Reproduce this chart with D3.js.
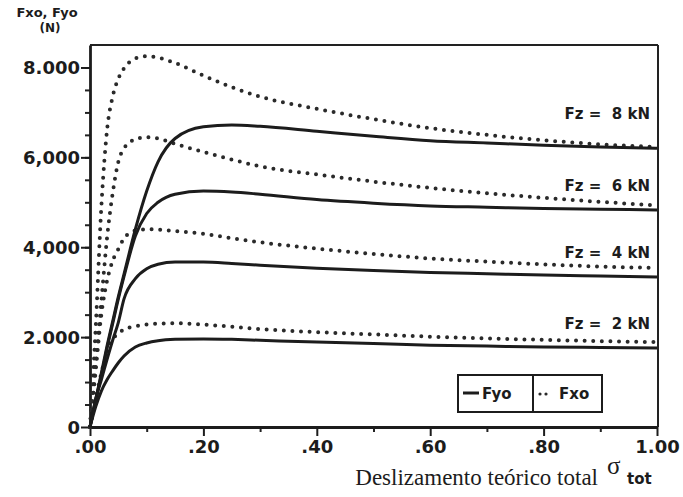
<!DOCTYPE html>
<html>
<head>
<meta charset="utf-8">
<script src="https://cdn.jsdelivr.net/npm/d3@7"></script>
<style>
body { margin: 0; background: #fff; }
svg text { font-family: "DejaVu Sans", sans-serif; font-weight: bold; fill: #1c1c1c; }
</style>
</head>
<body>
<svg id="chart" width="683" height="497"></svg>
<script>
// total theoretical slip (x values shared by all curves)
const slip = [0, 0.01, 0.02, 0.03, 0.04, 0.05, 0.06, 0.08, 0.10, 0.12, 0.15, 0.20, 0.25, 0.30, 0.40, 0.50, 0.60, 0.70, 0.80, 0.90, 1.00];

// Fyo (solid) per wheel load
const fyo8 = [0, 600, 1200, 1800, 2350, 2900, 3400, 4400, 5250, 5900, 6420, 6680, 6720, 6690, 6580, 6470, 6370, 6320, 6270, 6230, 6200];
const fyo6 = [0, 600, 1150, 1750, 2300, 2850, 3350, 4250, 4750, 5000, 5180, 5250, 5230, 5180, 5060, 4980, 4920, 4890, 4860, 4845, 4830];
const fyo4 = [0, 620, 1050, 1500, 1930, 2330, 2850, 3300, 3520, 3620, 3670, 3670, 3640, 3600, 3530, 3480, 3440, 3410, 3380, 3360, 3340];
const fyo2 = [0, 450, 800, 1050, 1250, 1430, 1580, 1780, 1870, 1920, 1950, 1960, 1950, 1930, 1890, 1860, 1820, 1800, 1780, 1770, 1760];

// Fxo (dotted) per wheel load
const fxo8 = [0, 2200, 4900, 6600, 7350, 7750, 7980, 8200, 8250, 8220, 8100, 7820, 7560, 7350, 7080, 6850, 6650, 6500, 6380, 6290, 6230];
const fxo6 = [0, 1400, 2800, 4200, 5200, 5900, 6200, 6400, 6450, 6420, 6300, 6120, 5950, 5800, 5620, 5460, 5320, 5200, 5100, 5010, 4930];
const fxo4 = [0, 1250, 2500, 3250, 3700, 3960, 4200, 4370, 4400, 4390, 4360, 4300, 4200, 4110, 3970, 3850, 3750, 3680, 3620, 3570, 3540];
const fxo2 = [0, 600, 1200, 1650, 1950, 2080, 2170, 2240, 2280, 2300, 2310, 2280, 2230, 2180, 2110, 2060, 2010, 1970, 1940, 1910, 1890];

const loadLabels = ['Fz =  8 kN', 'Fz =  6 kN', 'Fz =  4 kN', 'Fz =  2 kN'];
const labelValues = [6850, 5260, 3770, 2180];

const xTicks = [0, 0.2, 0.4, 0.6, 0.8, 1.0];
const xTickLabels = ['.00', '.20', '.40', '.60', '.80', '1.00'];
const yTicks = [0, 2000, 4000, 6000, 8000];
const yTickLabels = ['0', '2.000', '4,000', '6,000', '8.000'];

const svg = d3.select('#chart');
const x = d3.scaleLinear().domain([0, 1]).range([90, 657]);
const y = d3.scaleLinear().domain([0, 8500]).range([427, 45]);

// frame top + right
svg.append('line').attr('x1', 90).attr('x2', 658).attr('y1', 45).attr('y2', 45)
    .attr('stroke', '#222').attr('stroke-width', 2);
svg.append('line').attr('x1', 658).attr('x2', 658).attr('y1', 45).attr('y2', 427)
    .attr('stroke', '#222').attr('stroke-width', 2);

// minor ticks
svg.append('g').attr('transform', 'translate(90,0)')
    .call(d3.axisLeft(y).tickValues(d3.range(500, 8500, 500)).tickSize(5).tickFormat(''))
    .call(g => g.select('.domain').remove())
    .selectAll('line').attr('stroke', '#222').attr('stroke-width', 2);
svg.append('g').attr('transform', 'translate(0,427)')
    .call(d3.axisBottom(x).tickValues(d3.range(0.1, 1, 0.2)).tickSize(5).tickFormat(''))
    .call(g => g.select('.domain').remove())
    .selectAll('line').attr('stroke', '#222').attr('stroke-width', 2);

// main axes
let yAxis = svg.append('g').attr('transform', 'translate(90,0)')
    .call(d3.axisLeft(y).tickValues(yTicks).tickSize(9).tickSizeOuter(0).tickFormat((d, i) => yTickLabels[i]));
let xAxis = svg.append('g').attr('transform', 'translate(0,427)')
    .call(d3.axisBottom(x).tickValues(xTicks).tickSize(9).tickSizeOuter(0).tickFormat((d, i) => xTickLabels[i]));
[xAxis, yAxis].forEach(g => {
    g.select('.domain').attr('stroke', '#1c1c1c').attr('stroke-width', 2.8);
    g.selectAll('.tick line').attr('stroke', '#1c1c1c').attr('stroke-width', 2);
    g.selectAll('.tick text').style('font-size', '18px').attr('fill', '#1c1c1c');
});
yAxis.selectAll('.tick text').attr('x', -10).attr('dy', '0.36em');
xAxis.selectAll('.tick text').attr('y', 13);

// curves
const line = d3.line().x(d => x(d[0])).y(d => y(d[1])).curve(d3.curveMonotoneX);
const solid = [fyo8, fyo6, fyo4, fyo2];
const dotted = [fxo8, fxo6, fxo4, fxo2];

dotted.forEach(vals => {
    svg.append('path').datum(slip.map((s, i) => [s, vals[i]]))
        .attr('d', line).attr('fill', 'none').attr('stroke', '#2a2a2a')
        .attr('stroke-width', 4).attr('stroke-linecap', 'round')
        .attr('stroke-dasharray', '0 8.6');
});
solid.forEach(vals => {
    svg.append('path').datum(slip.map((s, i) => [s, vals[i]]))
        .attr('d', line).attr('fill', 'none').attr('stroke', '#1c1c1c')
        .attr('stroke-width', 3);
});

// Fz labels
loadLabels.forEach((t, i) => {
    svg.append('text').attr('x', 650).attr('y', y(labelValues[i]))
        .attr('text-anchor', 'end').style('font-size', '15px')
        .style('white-space', 'pre').text(t);
});

// y title
svg.append('text').attr('x', 47).attr('y', 17).attr('text-anchor', 'middle')
    .style('font-size', '13px').text('Fxo, Fyo');
svg.append('text').attr('x', 50).attr('y', 32).attr('text-anchor', 'middle')
    .style('font-size', '12px').text('(N)');

// x title
svg.append('text').attr('x', 598).attr('y', 485).attr('text-anchor', 'end')
    .style('font-family', '"Liberation Serif", "Times New Roman", serif')
    .style('font-weight', 'normal').style('font-size', '23px').text('Deslizamento teórico total');
svg.append('text').attr('x', 607).attr('y', 474)
    .style('font-family', '"Liberation Serif", serif').style('font-weight', 'normal')
    .style('font-size', '25px').text('σ');
svg.append('text').attr('x', 627).attr('y', 484).style('font-size', '15px').text('tot');

// legend
const lg = svg.append('g');
lg.append('rect').attr('x', 458).attr('y', 375).attr('width', 144).attr('height', 37)
    .attr('fill', '#fff').attr('stroke', '#1c1c1c').attr('stroke-width', 2);
lg.append('line').attr('x1', 533).attr('x2', 533).attr('y1', 375).attr('y2', 412)
    .attr('stroke', '#1c1c1c').attr('stroke-width', 2);
lg.append('line').attr('x1', 463).attr('x2', 479).attr('y1', 393).attr('y2', 393)
    .attr('stroke', '#1c1c1c').attr('stroke-width', 3);
lg.append('text').attr('x', 482).attr('y', 399).style('font-size', '15px').text('Fyo');
lg.append('line').attr('x1', 540).attr('x2', 552).attr('y1', 394).attr('y2', 394)
    .attr('stroke', '#2a2a2a').attr('stroke-width', 3.2).attr('stroke-linecap', 'round')
    .attr('stroke-dasharray', '0 6');
lg.append('text').attr('x', 559).attr('y', 399).style('font-size', '15px').text('Fxo');
</script>
</body>
</html>
